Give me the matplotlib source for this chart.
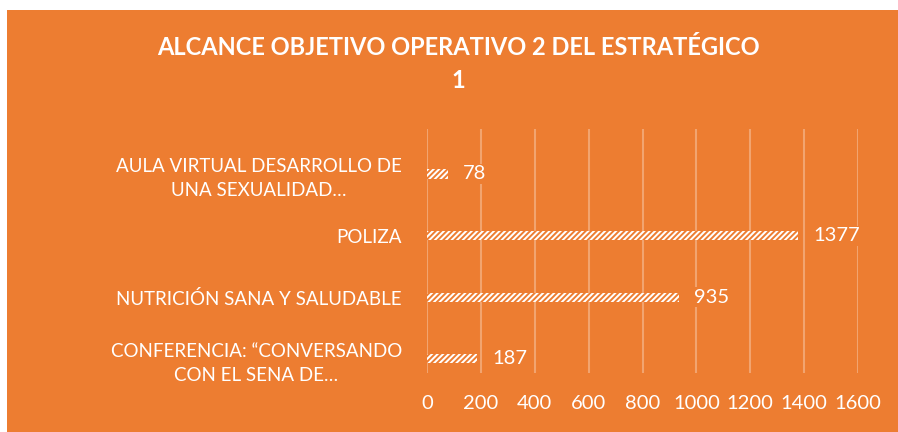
import matplotlib
matplotlib.use("Agg")
import matplotlib.pyplot as plt
from matplotlib.patches import Rectangle

categories = [
    "AULA VIRTUAL DESARROLLO DE\nUNA SEXUALIDAD…",
    "POLIZA",
    "NUTRICIÓN SANA Y SALUDABLE",
    "CONFERENCIA: “CONVERSANDO\nCON EL SENA DE…",
]
values = [78, 1377, 935, 187]
xticks = [0, 200, 400, 600, 800, 1000, 1200, 1400, 1600]
title = "ALCANCE OBJETIVO OPERATIVO 2 DEL ESTRATÉGICO\n1"

ORANGE = "#ED7D31"
W, H = 898, 432
plt.rcParams['font.family'] = ['Lato', 'DejaVu Sans']
plt.rcParams['hatch.linewidth'] = 1.4

fig = plt.figure(figsize=(W / 100, H / 100), dpi=100)
fig.patch.set_facecolor("white")
fig.add_artist(Rectangle((7 / W, 0), 1 - 7 / W, 1 - 10 / H, transform=fig.transFigure,
                         facecolor=ORANGE, edgecolor="none", zorder=0))

ax = fig.add_axes([427 / W, 1 - 373 / H, (858 - 427) / W, (373 - 129) / H])
ax.set_facecolor("none")
pos = list(range(len(categories)))
ax.barh(pos, values, height=0.15, color="white", edgecolor=ORANGE, linewidth=0,
        hatch="//////", zorder=3)
ax.set_ylim(3.23, -0.73)
ax.set_xlim(0, 1600)
ax.set_xticks(xticks)
ax.set_xticklabels([str(t) for t in xticks])
ax.set_yticks(pos)
ax.set_yticklabels(categories, ha="right", multialignment="center", linespacing=1.5)
ax.tick_params(axis="y", length=0, pad=18, labelsize=13.5, colors="white")
ax.tick_params(axis="x", length=0, pad=16, labelsize=14.5, colors="white")
ax.grid(axis="x", color="white", alpha=0.3, linewidth=1.5, zorder=1)
ax.grid(axis="y", visible=False)
for s in ax.spines.values():
    s.set_visible(False)

for p, v in zip(pos, values):
    ax.annotate(str(v), (v, p), xytext=(15, 0), textcoords="offset pixels",
                ha="left", va="center", color="white", fontsize=14.5, zorder=4,
                bbox=dict(facecolor=ORANGE, edgecolor="none", pad=1))

fig.text(458 / W, 1 - 64 / H, title, ha="center", va="center", color="white",
         fontsize=17, fontweight="bold", linespacing=1.5)

fig.savefig("out.png", dpi=100, facecolor=fig.get_facecolor())
